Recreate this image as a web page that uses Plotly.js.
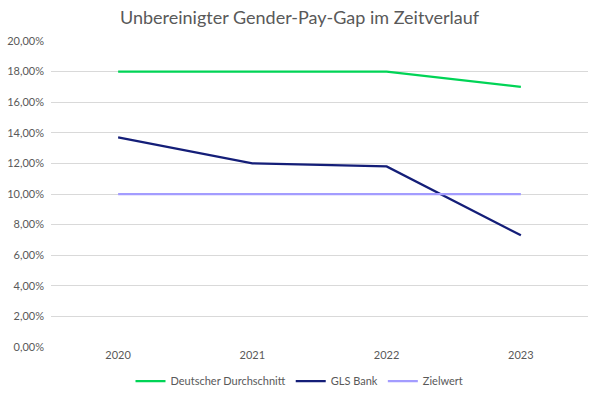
<!DOCTYPE html>
<html>
<head>
<meta charset="utf-8">
<script src="https://cdn.plot.ly/plotly-3.0.1.min.js"></script>
<style>html,body{margin:0;padding:0;background:#fff;}#chart{width:599px;height:399px;}</style>
</head>
<body>
<div id="chart"></div>
<script>
const years = ['2020', '2021', '2022', '2023'];
const deutscherDurchschnitt = [0.18, 0.18, 0.18, 0.17];
const glsBank = [0.137, 0.120, 0.118, 0.073];
const zielwert = [0.10, 0.10, 0.10, 0.10];
const yTicks = [0, 0.02, 0.04, 0.06, 0.08, 0.10, 0.12, 0.14, 0.16, 0.18, 0.20];

const font = 'Lato, "Noto Sans", sans-serif';
const traces = [
  {x: years, y: deutscherDurchschnitt, name: 'Deutscher Durchschnitt', type: 'scatter', mode: 'lines', line: {color: '#00d456', width: 2.25}},
  {x: years, y: glsBank, name: 'GLS Bank', type: 'scatter', mode: 'lines', line: {color: '#141e78', width: 2.25}},
  {x: years, y: zielwert, name: 'Zielwert', type: 'scatter', mode: 'lines', line: {color: '#a39cff', width: 2.25}}
];
const layout = {
  width: 599, height: 399,
  margin: {l: 51, r: 11, t: 41, b: 52, autoexpand: false},
  paper_bgcolor: '#fff', plot_bgcolor: '#fff',
  separators: ',.',
  font: {family: font, color: '#595959', size: 11},
  title: {text: 'Unbereinigter Gender-Pay-Gap im Zeitverlauf', x: 0.5, xanchor: 'center', y: 0.955, yanchor: 'middle', font: {family: font, size: 18, color: '#595959'}},
  xaxis: {type: 'category', showgrid: false, zeroline: false, showline: false, ticks: '', tickfont: {size: 11, color: '#595959'}, range: [-0.5, 3.5], automargin: false},
  yaxis: {range: [0, 0.2], tickvals: yTicks, tickformat: '.2%', showgrid: true, gridcolor: '#d9d9d9', gridwidth: 1, zeroline: false, showline: false, ticks: '', ticklabelstandoff: 6, tickfont: {size: 11, color: '#595959'}, automargin: false},
  showlegend: true,
  legend: {orientation: 'h', x: 0.5, xanchor: 'center', xref: 'container', y: 0.045, yanchor: 'middle', yref: 'container', font: {size: 11, color: '#595959'}, itemwidth: 30, tracegroupgap: 0}
};
Plotly.newPlot('chart', traces, layout, {displayModeBar: false, staticPlot: true});
</script>
</body>
</html>
